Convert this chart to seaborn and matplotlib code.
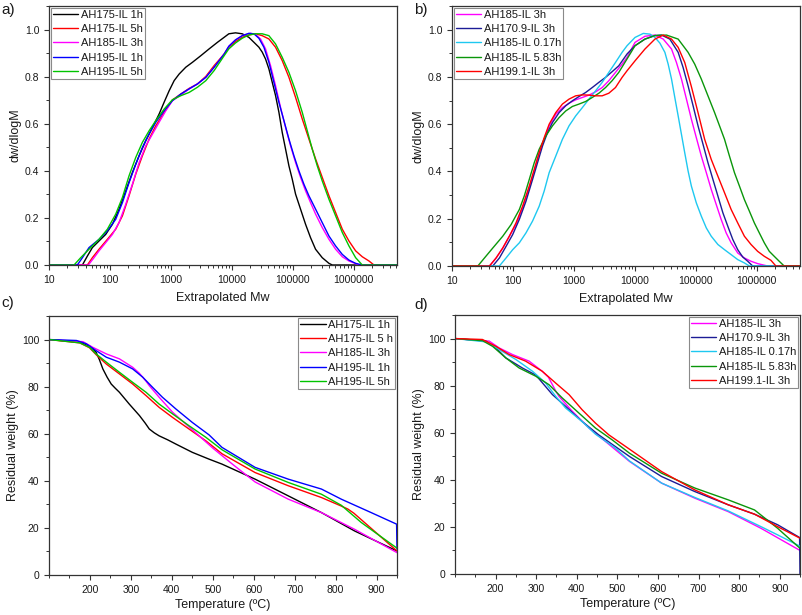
import numpy as np
import pandas as pd
import seaborn as sns
import matplotlib
matplotlib.use("Agg")
import matplotlib.pyplot as plt
from matplotlib.ticker import MultipleLocator, LogLocator, FuncFormatter, NullFormatter

# ---- panel a: GPC, log10(Mw) vs dw/dlogM ----
a_labels = ["AH175-IL 1h", "AH175-IL 5h", "AH185-IL 3h", "AH195-IL 1h", "AH195-IL 5h"]
a_colors = ["#000000", "#ff0000", "#ff00ff", "#0000ff", "#00c400"]

a_x_175_1h = [1.0, 1.548, 1.630, 1.712, 1.821, 1.931, 2.041, 2.150, 2.260, 2.369, 2.479, 2.588, 2.698, 2.807,
              2.889, 2.972, 3.054, 3.136, 3.245, 3.355, 3.492, 3.629, 3.766, 3.875, 3.952, 4.061, 4.171, 4.280,
              4.363, 4.445, 4.500, 4.554, 4.609, 4.664, 4.719, 4.774, 4.828, 4.883, 4.938, 4.992, 5.047, 5.129,
              5.211, 5.293, 5.375, 5.485, 5.595, 5.650, 6.71]
a_y_175_1h = [0, 0, 0.038, 0.074, 0.102, 0.130, 0.173, 0.237, 0.315, 0.393, 0.464, 0.528, 0.584, 0.641,
              0.691, 0.740, 0.783, 0.811, 0.840, 0.861, 0.889, 0.918, 0.946, 0.967, 0.982, 0.986, 0.982, 0.967,
              0.946, 0.925, 0.904, 0.875, 0.833, 0.776, 0.719, 0.648, 0.563, 0.492, 0.421, 0.365, 0.301, 0.237,
              0.173, 0.116, 0.067, 0.031, 0.007, 0, 0]
a_x_175_5h = [1.0, 1.630, 1.712, 1.821, 1.958, 2.095, 2.205, 2.314, 2.424, 2.533, 2.643, 2.752, 2.889, 3.026,
              3.163, 3.300, 3.437, 3.574, 3.711, 3.875, 3.952, 4.061, 4.171, 4.280, 4.390, 4.499, 4.609, 4.718,
              4.828, 4.938, 5.047, 5.157, 5.266, 5.376, 5.485, 5.595, 5.704, 5.814, 5.923, 6.033, 6.142, 6.252,
              6.334, 6.71]
a_y_175_5h = [0, 0, 0.031, 0.067, 0.109, 0.152, 0.209, 0.294, 0.386, 0.464, 0.535, 0.591, 0.648, 0.701,
              0.726, 0.750, 0.769, 0.801, 0.847, 0.896, 0.925, 0.949, 0.967, 0.977, 0.982, 0.974, 0.960, 0.925,
              0.868, 0.797, 0.712, 0.620, 0.535, 0.450, 0.372, 0.294, 0.223, 0.152, 0.102, 0.060, 0.035, 0.017,
              0, 0]
a_x_185_3h = [1.0, 1.646, 1.739, 1.821, 1.931, 2.041, 2.150, 2.260, 2.369, 2.479, 2.588, 2.698, 2.807, 2.917,
              3.026, 3.163, 3.300, 3.437, 3.574, 3.711, 3.875, 3.952, 4.061, 4.171, 4.308, 4.390, 4.472, 4.554,
              4.636, 4.718, 4.800, 4.883, 4.965, 5.047, 5.129, 5.211, 5.293, 5.376, 5.485, 5.595, 5.704, 5.814,
              5.923, 6.088, 6.71]
a_y_185_3h = [0, 0, 0.031, 0.060, 0.095, 0.130, 0.180, 0.258, 0.343, 0.435, 0.506, 0.556, 0.606, 0.655,
              0.698, 0.722, 0.748, 0.769, 0.797, 0.840, 0.896, 0.929, 0.956, 0.974, 0.984, 0.979, 0.960, 0.918,
              0.847, 0.762, 0.670, 0.584, 0.506, 0.435, 0.372, 0.315, 0.265, 0.216, 0.159, 0.109, 0.067, 0.035,
              0.017, 0, 0]
a_x_195_1h = [1.0, 1.465, 1.548, 1.657, 1.821, 1.958, 2.095, 2.205, 2.314, 2.424, 2.533, 2.643, 2.752, 2.889,
              3.026, 3.163, 3.300, 3.437, 3.574, 3.711, 3.875, 3.952, 4.061, 4.171, 4.280, 4.363, 4.445, 4.527,
              4.609, 4.691, 4.773, 4.856, 4.938, 5.020, 5.102, 5.184, 5.266, 5.376, 5.485, 5.595, 5.704, 5.814,
              5.923, 6.033, 6.142, 6.71]
a_y_195_1h = [0, 0, 0.031, 0.074, 0.109, 0.145, 0.194, 0.265, 0.350, 0.428, 0.499, 0.556, 0.606, 0.655,
              0.698, 0.726, 0.748, 0.769, 0.797, 0.840, 0.896, 0.929, 0.956, 0.974, 0.984, 0.982, 0.963, 0.925,
              0.861, 0.776, 0.691, 0.613, 0.535, 0.464, 0.400, 0.343, 0.294, 0.237, 0.180, 0.123, 0.081, 0.045,
              0.021, 0.007, 0, 0]
a_x_195_5h = [1.0, 1.411, 1.520, 1.657, 1.821, 1.958, 2.095, 2.205, 2.314, 2.424, 2.533, 2.643, 2.752, 2.889,
              3.026, 3.163, 3.300, 3.437, 3.574, 3.711, 3.875, 3.952, 4.061, 4.171, 4.280, 4.390, 4.499, 4.609,
              4.718, 4.828, 4.938, 5.047, 5.157, 5.239, 5.321, 5.403, 5.485, 5.595, 5.704, 5.814, 5.923, 6.033,
              6.142, 6.71]
a_y_195_5h = [0, 0, 0.031, 0.067, 0.109, 0.152, 0.216, 0.287, 0.379, 0.457, 0.521, 0.570, 0.613, 0.662,
              0.702, 0.719, 0.733, 0.755, 0.783, 0.826, 0.889, 0.918, 0.943, 0.963, 0.977, 0.982, 0.982, 0.974,
              0.939, 0.882, 0.818, 0.740, 0.648, 0.570, 0.492, 0.421, 0.357, 0.279, 0.209, 0.138, 0.081, 0.031,
              0, 0]

# ---- panel b ----
b_labels = ["AH185-IL 3h", "AH170.9-IL 3h", "AH185-IL 0.17h", "AH185-IL 5.83h", "AH199.1-IL 3h"]
b_colors = ["#ff00ff", "#1c1c96", "#1ec8f0", "#0a960a", "#ff0000"]

b_x_185_3h = [1.0, 1.615, 1.724, 1.833, 1.941, 2.050, 2.159, 2.268, 2.350, 2.431, 2.513, 2.595, 2.703, 2.812,
              2.921, 3.030, 3.139, 3.248, 3.357, 3.465, 3.574, 3.683, 3.792, 3.873, 4.004, 4.167, 4.331, 4.467,
              4.603, 4.684, 4.766, 4.848, 4.929, 5.010, 5.092, 5.174, 5.255, 5.337, 5.418, 5.500, 5.582, 5.690,
              5.799, 5.908, 6.017, 6.180, 6.71]
b_y_185_3h = [0, 0, 0.034, 0.076, 0.126, 0.175, 0.246, 0.331, 0.402, 0.479, 0.536, 0.593, 0.642, 0.670,
              0.689, 0.703, 0.713, 0.723, 0.737, 0.755, 0.784, 0.819, 0.854, 0.883, 0.946, 0.972, 0.977, 0.960,
              0.918, 0.861, 0.791, 0.706, 0.621, 0.543, 0.465, 0.395, 0.324, 0.260, 0.197, 0.140, 0.098, 0.055,
              0.034, 0.020, 0.010, 0, 0]
b_x_170_3h = [1.0, 1.669, 1.778, 1.887, 1.996, 2.105, 2.214, 2.322, 2.404, 2.486, 2.567, 2.649, 2.758, 2.867,
              2.976, 3.084, 3.193, 3.302, 3.411, 3.520, 3.628, 3.737, 3.873, 4.004, 4.167, 4.331, 4.439, 4.575,
              4.712, 4.793, 4.875, 4.957, 5.038, 5.120, 5.201, 5.283, 5.364, 5.446, 5.527, 5.609, 5.690, 5.772,
              5.854, 5.935, 6.71]
b_y_170_3h = [0, 0, 0.034, 0.083, 0.133, 0.197, 0.274, 0.366, 0.437, 0.508, 0.564, 0.607, 0.649, 0.678,
              0.699, 0.717, 0.734, 0.755, 0.777, 0.798, 0.822, 0.847, 0.897, 0.932, 0.960, 0.975, 0.977, 0.960,
              0.904, 0.840, 0.762, 0.678, 0.593, 0.515, 0.437, 0.366, 0.296, 0.225, 0.168, 0.112, 0.069, 0.038,
              0.020, 0, 0]
b_x_185_017h = [1.0, 1.778, 1.887, 1.996, 2.105, 2.214, 2.322, 2.431, 2.513, 2.595, 2.703, 2.812, 2.921, 3.030,
                3.139, 3.248, 3.357, 3.465, 3.574, 3.683, 3.792, 3.873, 4.004, 4.140, 4.249, 4.331, 4.412, 4.494,
                4.548, 4.603, 4.657, 4.712, 4.766, 4.820, 4.875, 4.929, 5.010, 5.092, 5.174, 5.255, 5.364, 5.473,
                5.582, 5.690, 5.799, 5.881, 6.71]
b_y_185_017h = [0, 0, 0.034, 0.069, 0.098, 0.140, 0.190, 0.253, 0.317, 0.395, 0.465, 0.536, 0.593, 0.635,
                0.670, 0.706, 0.741, 0.777, 0.819, 0.861, 0.904, 0.932, 0.967, 0.984, 0.981, 0.967, 0.943, 0.904,
                0.854, 0.791, 0.713, 0.635, 0.557, 0.479, 0.402, 0.338, 0.267, 0.211, 0.161, 0.126, 0.091, 0.069,
                0.048, 0.027, 0.013, 0, 0]
b_x_185_583h = [1.0, 1.424, 1.533, 1.669, 1.833, 1.969, 2.105, 2.186, 2.268, 2.350, 2.431, 2.540, 2.649, 2.758,
                2.867, 2.976, 3.084, 3.193, 3.302, 3.411, 3.520, 3.628, 3.737, 3.873, 4.004, 4.167, 4.331, 4.521,
                4.712, 4.875, 4.984, 5.092, 5.201, 5.310, 5.391, 5.473, 5.554, 5.636, 5.718, 5.799, 5.881, 5.963,
                6.044, 6.126, 6.208, 6.289, 6.371, 6.452, 6.71]
b_y_185_583h = [0, 0, 0.034, 0.076, 0.126, 0.175, 0.239, 0.296, 0.366, 0.437, 0.494, 0.550, 0.593, 0.628,
                0.656, 0.675, 0.685, 0.696, 0.713, 0.731, 0.755, 0.784, 0.819, 0.876, 0.932, 0.960, 0.975, 0.977,
                0.960, 0.904, 0.854, 0.791, 0.720, 0.649, 0.593, 0.536, 0.465, 0.395, 0.338, 0.281, 0.232, 0.182,
                0.140, 0.098, 0.062, 0.041, 0.020, 0, 0]
b_x_199_3h = [1.0, 1.615, 1.724, 1.833, 1.941, 2.050, 2.159, 2.268, 2.350, 2.431, 2.513, 2.595, 2.703, 2.812,
              2.921, 3.030, 3.139, 3.248, 3.357, 3.465, 3.574, 3.683, 3.792, 3.873, 4.004, 4.167, 4.331, 4.467,
              4.603, 4.712, 4.820, 4.929, 5.038, 5.147, 5.255, 5.364, 5.473, 5.582, 5.690, 5.799, 5.908, 6.017,
              6.126, 6.235, 6.316, 6.71]
b_y_199_3h = [0, 0, 0.034, 0.076, 0.126, 0.182, 0.253, 0.338, 0.409, 0.479, 0.543, 0.600, 0.649, 0.685,
              0.706, 0.720, 0.724, 0.723, 0.720, 0.720, 0.731, 0.755, 0.798, 0.826, 0.868, 0.918, 0.960, 0.977,
              0.960, 0.925, 0.861, 0.759, 0.649, 0.536, 0.451, 0.380, 0.310, 0.239, 0.182, 0.126, 0.091, 0.062,
              0.041, 0.024, 0, 0]

# ---- panel c: TGA ----
c_labels = ["AH175-IL 1h", "AH175-IL 5 h", "AH185-IL 3h", "AH195-IL 1h", "AH195-IL 5h"]
c_colors = ["#000000", "#ff0000", "#ff00ff", "#0000ff", "#00c400"]

c_t_175_1h = [100, 175, 200, 215, 223, 231.6, 242, 252, 262, 272, 296, 321, 335, 345, 357, 369, 390, 410, 450,
              491, 522.5, 603.5, 684.5, 765.5, 846.5, 950]
c_w_175_1h = [100, 98.9, 97.2, 94.6, 91.5, 87.5, 84.0, 81.1, 79.3, 77.6, 72.6, 67.7, 64.5, 62.0, 60.4, 59.1,
              57.4, 55.6, 52.1, 49.2, 47.1, 40.7, 33.6, 26.5, 18.7, 10.2]
c_t_175_5h = [100, 175, 199, 215, 240, 272, 304.5, 337, 369, 402, 442, 483, 522.5, 603.5, 684.5, 765.5, 815,
              830, 845, 950]
c_w_175_5h = [100, 98.6, 96.5, 93.6, 89.6, 85.4, 81.1, 76.2, 71.2, 66.9, 62.0, 57.0, 51.5, 43.5, 37.9, 32.9,
              29.2, 28.0, 26.2, 10.2]
c_t_185_3h = [100, 183, 207, 240, 272, 304.5, 320, 329, 337, 345, 369, 402, 450, 500, 550, 603.5, 684.5, 765.5,
              846.5, 950]
c_w_185_3h = [100, 99.1, 96.7, 93.9, 91.8, 88.2, 85.8, 84.0, 82.3, 80.4, 75.5, 69.1, 61.7, 53.9, 46.8, 39.5,
              32.2, 26.5, 19.4, 9.5]
c_t_195_1h = [100, 167, 191, 215, 240, 272, 304.5, 329, 353, 377, 410, 450, 491, 522.5, 603.5, 684.5, 765.5,
              814, 887, 949, 950]
c_w_195_1h = [100, 99.6, 98.2, 95.3, 92.5, 90.4, 87.5, 84.0, 79.7, 75.5, 70.5, 64.8, 59.5, 54.2, 45.7, 40.7,
              36.5, 32.2, 26.5, 21.6, 11.0]
c_t_195_5h = [100, 175, 199, 215, 240, 272, 304.5, 337, 369, 402, 442, 483, 522.5, 603.5, 684.5, 765.5, 814,
              862.7, 950]
c_w_195_5h = [100, 98.6, 96.7, 93.9, 90.4, 86.1, 81.8, 77.6, 72.6, 68.4, 63.4, 58.5, 53.2, 45.0, 39.3, 34.3,
              29.6, 22.3, 11.4]

# ---- panel d ----
d_labels = b_labels
d_colors = b_colors

d_t_185_3h = [100, 184.5, 209, 241.7, 282.6, 315, 330, 340, 348, 356, 389, 430, 470.6, 530, 609, 691, 773, 854, 950]
d_w_185_3h = [100, 98.9, 96.0, 93.2, 90.4, 86.1, 83.6, 80.4, 77.8, 75.5, 69.1, 62.0, 56.3, 47.8, 38.6, 32.2,
              26.5, 19.4, 10.0]
d_t_170_3h = [100, 176, 200.8, 225, 266, 299, 340, 372.5, 413, 454, 530, 609, 691, 773, 838, 895, 949, 950]
d_w_170_3h = [100, 98.9, 96.0, 91.8, 87.5, 84.5, 76.2, 71.2, 64.8, 59.1, 49.9, 41.4, 35.0, 29.4, 25.4, 20.9, 15.5, 0]
d_t_185_017h = [100, 176, 209, 250, 291, 323.5, 348, 372.5, 413, 446, 495, 530, 609, 691, 773, 854, 895, 950]
d_w_185_017h = [100, 98.6, 95.3, 91.1, 86.1, 81.1, 75.5, 70.5, 64.8, 59.4, 53.5, 48.0, 38.6, 32.5, 26.8, 20.1,
                16.6, 11.8]
d_t_185_583h = [100, 167.7, 192.6, 225, 258, 299, 331.6, 364, 405, 446, 487, 530, 609, 691, 773, 838, 895, 950]
d_w_185_583h = [100, 99.1, 96.7, 91.8, 87.5, 84.0, 80.4, 74.8, 68.4, 62.0, 57.0, 51.3, 42.8, 36.5, 31.5, 27.2,
                19.4, 10.9]
d_t_199_3h = [100, 167.7, 200.8, 233.5, 274, 315, 348, 381, 413, 446, 479, 530, 609, 691, 773, 838, 895, 950]
d_w_199_3h = [100, 99.6, 96.7, 93.2, 90.4, 86.1, 81.1, 76.2, 69.8, 64.1, 59.1, 53.0, 43.5, 35.7, 29.4, 25.4,
              20.1, 15.2]


def long_frame(labels, xs, ys, log_x=False):
    frames = []
    for lab, x, y in zip(labels, xs, ys):
        x = np.asarray(x, dtype=float)
        if log_x:
            x = 10 ** x
        frames.append(pd.DataFrame({"x": x, "y": y, "sample": lab}))
    return pd.concat(frames, ignore_index=True)


df_a = long_frame(a_labels, [a_x_175_1h, a_x_175_5h, a_x_185_3h, a_x_195_1h, a_x_195_5h],
                  [a_y_175_1h, a_y_175_5h, a_y_185_3h, a_y_195_1h, a_y_195_5h], log_x=True)
df_b = long_frame(b_labels, [b_x_185_3h, b_x_170_3h, b_x_185_017h, b_x_185_583h, b_x_199_3h],
                  [b_y_185_3h, b_y_170_3h, b_y_185_017h, b_y_185_583h, b_y_199_3h], log_x=True)
df_c = long_frame(c_labels, [c_t_175_1h, c_t_175_5h, c_t_185_3h, c_t_195_1h, c_t_195_5h],
                  [c_w_175_1h, c_w_175_5h, c_w_185_3h, c_w_195_1h, c_w_195_5h])
df_d = long_frame(d_labels, [d_t_185_3h, d_t_170_3h, d_t_185_017h, d_t_185_583h, d_t_199_3h],
                  [d_w_185_3h, d_w_170_3h, d_w_185_017h, d_w_185_583h, d_w_199_3h])

edge = "#333333"
sns.set_theme(style="ticks", rc={
    "axes.edgecolor": edge, "axes.linewidth": 0.9,
    "xtick.color": edge, "ytick.color": edge,
    "xtick.direction": "out", "ytick.direction": "out",
    "xtick.major.size": 3.5, "ytick.major.size": 3.5,
    "xtick.minor.size": 2.0, "ytick.minor.size": 2.0,
    "xtick.major.width": 0.8, "ytick.major.width": 0.8,
    "xtick.minor.width": 0.7, "ytick.minor.width": 0.7,
    "xtick.labelsize": 7.5, "ytick.labelsize": 7.5,
    "axes.labelsize": 9, "text.color": "#1a1a1a", "axes.labelcolor": "#1a1a1a",
    "xtick.labelcolor": "#1a1a1a", "ytick.labelcolor": "#1a1a1a",
})
plt.rcParams["font.family"] = ["Liberation Sans", "DejaVu Sans"]

W, H = 803, 615
fig = plt.figure(figsize=(W / 100, H / 100), dpi=100)


def box(l, t, r, b):
    return [l / W, 1 - b / H, (r - l) / W, (b - t) / H]


ax_a = fig.add_axes(box(49, 6, 397, 265))
ax_b = fig.add_axes(box(452, 6, 800, 266))
ax_c = fig.add_axes(box(49, 316, 397, 575))
ax_d = fig.add_axes(box(455, 315, 800, 574))

panels = [
    (ax_a, df_a, a_labels, a_colors, "upper left"),
    (ax_b, df_b, b_labels, b_colors, "upper left"),
    (ax_c, df_c, c_labels, c_colors, "upper right"),
    (ax_d, df_d, d_labels, d_colors, "upper right"),
]

for ax, df, labels, colors, loc in panels:
    sns.lineplot(data=df, x="x", y="y", hue="sample", hue_order=labels,
                 palette=dict(zip(labels, colors)), estimator=None, sort=False,
                 linewidth=1.0, ax=ax)
    handles, labs = ax.get_legend_handles_labels()
    ax.legend(handles, labs, loc=loc, fontsize=8, frameon=True, fancybox=False,
              edgecolor="#8a8a8a", framealpha=1, borderpad=0.2, labelspacing=0.38,
              handlelength=2.3, handletextpad=0.2, borderaxespad=0.15)
    ax.get_legend().get_frame().set_linewidth(0.8)
    for s in ax.spines.values():
        s.set_visible(True)
    ax.tick_params(which="both", top=False, right=False)

for ax in (ax_a, ax_b):
    ax.set_xscale("log")
    ax.set_xlim(10, 5.15e6)
    ax.set_ylim(0, 1.1)
    ax.xaxis.set_major_locator(LogLocator(base=10, numticks=12))
    ax.xaxis.set_minor_locator(LogLocator(base=10, subs=np.arange(2, 10), numticks=12))
    ax.xaxis.set_major_formatter(FuncFormatter(lambda v, p: f"{v:.0f}"))
    ax.xaxis.set_minor_formatter(NullFormatter())
    ax.yaxis.set_major_locator(MultipleLocator(0.2))
    ax.yaxis.set_minor_locator(MultipleLocator(0.1))
    ax.yaxis.set_major_formatter(FuncFormatter(lambda v, p: f"{v:.1f}"))
    ax.set_xlabel("Extrapolated Mw", labelpad=5)
    ax.set_ylabel("dw/dlogM", labelpad=2.5)

for ax in (ax_c, ax_d):
    ax.set_xlim(100, 950)
    ax.set_ylim(0, 110)
    ax.xaxis.set_major_locator(MultipleLocator(100))
    ax.xaxis.set_minor_locator(MultipleLocator(50))
    ax.yaxis.set_major_locator(MultipleLocator(20))
    ax.yaxis.set_minor_locator(MultipleLocator(10))
    ax.set_xticks([200, 300, 400, 500, 600, 700, 800, 900])
    ax.set_xlabel("Temperature (ºC)", labelpad=3)
    ax.set_ylabel("Residual weight (%)", labelpad=2)

for txt, x, y in [("a)", 1, 10), ("b)", 414, 10), ("c)", 1, 303), ("d)", 414, 305)]:
    fig.text(x / W, 1 - y / H, txt, fontsize=11, va="center", ha="left")

fig.savefig("out.png", dpi=100)
